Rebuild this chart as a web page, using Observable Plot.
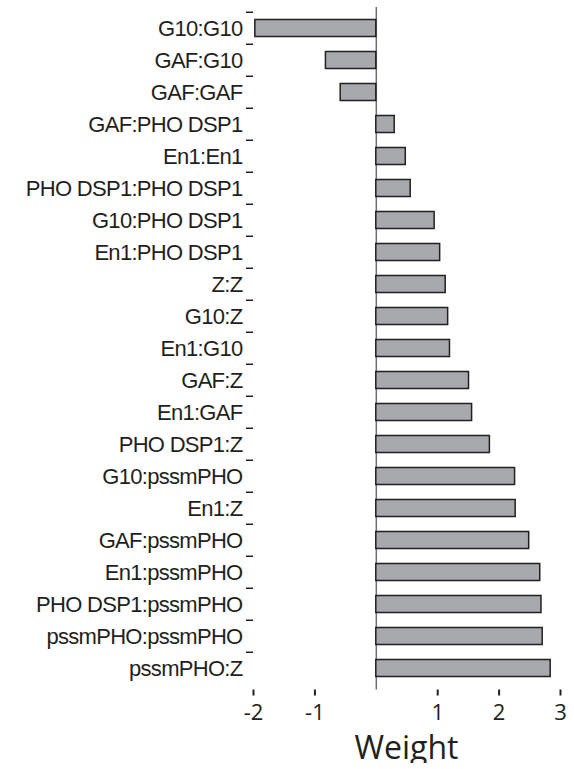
<!DOCTYPE html>
<html>
<head>
<meta charset="utf-8">
<script src="https://cdn.jsdelivr.net/npm/d3@7"></script>
<script src="https://cdn.jsdelivr.net/npm/@observablehq/plot@0.6"></script>
<style>
  body { margin: 0; background: #fff; }
  #chart svg { display: block; }
  #xlabel { font-family: "Open Sans", sans-serif; font-size: 32px; line-height: 32px; margin-top: 1px; color: #231f20; padding-left: 253px; width: 307px; text-align: center; }
</style>
</head>
<body>
<div id="chart"></div>
<div id="xlabel">Weight</div>
<script>
const pairs = [
  "G10:G10", "GAF:G10", "GAF:GAF", "GAF:PHO DSP1", "En1:En1",
  "PHO DSP1:PHO DSP1", "G10:PHO DSP1", "En1:PHO DSP1", "Z:Z", "G10:Z",
  "En1:G10", "GAF:Z", "En1:GAF", "PHO DSP1:Z", "G10:pssmPHO",
  "En1:Z", "GAF:pssmPHO", "En1:pssmPHO", "PHO DSP1:pssmPHO", "pssmPHO:pssmPHO",
  "pssmPHO:Z"
];
const weights = [
  -1.97, -0.82, -0.58, 0.30, 0.48,
  0.56, 0.95, 1.04, 1.13, 1.17,
  1.20, 1.51, 1.56, 1.85, 2.26,
  2.27, 2.49, 2.67, 2.69, 2.71,
  2.84
];
const xTicks = [-2, -1, 1, 2, 3];

const data = pairs.map((p, i) => ({pair: p, weight: weights[i]}));

const H = 730, MT = 7, MB = 40.5;
const step = (H - MT - MB) / pairs.length;

const chart = Plot.plot({
  width: 574,
  height: H,
  marginLeft: 253,
  marginRight: 14,
  marginTop: MT,
  marginBottom: MB,
  style: {background: "#fff", color: "#231f20"},
  x: {domain: [-2, 3]},
  y: {domain: pairs, padding: 0},
  marks: [
    Plot.ruleX([0], {stroke: "#6d6e71", strokeWidth: 1.5}),
    Plot.barX(data, {x: "weight", y: "pair", fill: "#a8a9ad", stroke: "#231f20", strokeWidth: 1.5, insetTop: 7.5, insetBottom: 7.5}),
    Plot.axisY({tickSize: 0, tickPadding: 11, fontSize: 22, fontFamily: "Liberation Sans, Arial, sans-serif", line: true, strokeWidth: 2, label: null}),
    Plot.axisY({tickSize: 7, tickFormat: () => "", dy: -step / 2, strokeWidth: 1.5, label: null}),
    Plot.axisX({ticks: xTicks, tickFormat: d => String(d), tickSize: 6, tickPadding: 8, fontSize: 22, fontFamily: "Open Sans, sans-serif", line: true, strokeWidth: 2, label: null})
  ]
});
d3.select(chart).selectAll('g[aria-label="y-axis tick label"] text').style("letter-spacing", "-0.7px");
document.getElementById("chart").append(chart);
</script>
</body>
</html>
